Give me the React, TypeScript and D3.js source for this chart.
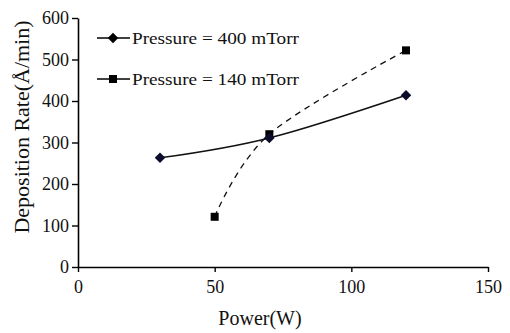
import React, { useEffect, useRef } from "react";
import * as d3 from "d3";

const power400 = [30, 70, 120];
const rate400 = [263, 311, 414];
const power140 = [50, 70, 120];
const rate140 = [121, 320, 522];
const xTicks = [0, 50, 100, 150];
const yTicks = [0, 100, 200, 300, 400, 500, 600];
const legendLabels = ["Pressure = 400 mTorr", "Pressure = 140 mTorr"];

const App = () => {
  const svgRef = useRef<SVGSVGElement>(null);
  const width = 510;
  const height = 333;

  useEffect(() => {
    const svg = d3.select(svgRef.current);
    svg.selectAll("*").remove();
    const font = '"Liberation Serif", "DejaVu Serif", serif';

    const xScale = d3.scaleLinear().domain([0, 150]).range([78, 488]);
    const yScale = d3.scaleLinear().domain([0, 600]).range([267, 18]);

    const xAxis = d3
      .axisBottom(xScale)
      .tickValues(xTicks)
      .tickSizeOuter(0)
      .tickSizeInner(5)
      .tickPadding(8);
    const yAxis = d3
      .axisLeft(yScale)
      .tickValues(yTicks)
      .tickSizeOuter(0)
      .tickSizeInner(6)
      .tickPadding(3);

    const gx = svg
      .append("g")
      .attr("transform", `translate(0, ${yScale(0)})`)
      .call(xAxis);
    gx.attr("font-family", null);
    gx.select(".domain").attr("stroke-width", 1.6);
    gx.selectAll("line").attr("stroke-width", 1.4);
    gx.selectAll("text")
      .style("font-family", font)
      .style("font-size", "18px")
      .attr("fill", "#111");

    const gy = svg
      .append("g")
      .attr("transform", `translate(${xScale(0)}, 0)`)
      .call(yAxis);
    gy.attr("font-family", null);
    gy.select(".domain").attr("stroke-width", 1.6);
    gy.selectAll("line").attr("stroke-width", 1.4);
    gy.selectAll("text")
      .style("font-family", font)
      .style("font-size", "18px")
      .attr("fill", "#111");

    const line = d3
      .line<[number, number]>()
      .x((d) => xScale(d[0]))
      .y((d) => yScale(d[1]))
      .curve(d3.curveCardinal.tension(0));

    const s400: [number, number][] = power400.map((p, i) => [p, rate400[i]]);
    const s140: [number, number][] = power140.map((p, i) => [p, rate140[i]]);

    // 140 mTorr, dashed
    svg
      .append("path")
      .attr("d", line(s140))
      .attr("fill", "none")
      .attr("stroke", "#111")
      .attr("stroke-width", 1.3)
      .attr("stroke-dasharray", "6,5");

    svg
      .selectAll(".sq")
      .data(s140)
      .join("rect")
      .attr("x", (d) => xScale(d[0]) - 4)
      .attr("y", (d) => yScale(d[1]) - 4)
      .attr("width", 8)
      .attr("height", 8)
      .attr("fill", "#000");

    // 400 mTorr, solid
    svg
      .append("path")
      .attr("d", line(s400))
      .attr("fill", "none")
      .attr("stroke", "#111")
      .attr("stroke-width", 1.5);

    const diamond = d3.symbol().type(d3.symbolDiamond2).size(70);
    svg
      .selectAll(".dm")
      .data(s400)
      .join("path")
      .attr("d", diamond)
      .attr("transform", (d) => `translate(${xScale(d[0])}, ${yScale(d[1])})`)
      .attr("fill", "#0b0b2a");

    // legend
    const legendY = [38, 79];
    legendLabels.forEach((label, i) => {
      const g = svg.append("g").attr("transform", `translate(0, ${legendY[i]})`);
      g.append("line")
        .attr("x1", 97)
        .attr("x2", 130)
        .attr("stroke", "#000")
        .attr("stroke-width", 1.5);
      if (i === 0) {
        g.append("path")
          .attr("d", diamond)
          .attr("transform", "translate(113, 0)")
          .attr("fill", "#000");
      } else {
        g.append("rect")
          .attr("x", 109)
          .attr("y", -4)
          .attr("width", 8)
          .attr("height", 8)
          .attr("fill", "#000");
      }
      g.append("text")
        .attr("x", 132)
        .attr("y", 6)
        .style("font-family", font)
        .style("font-size", "17px")
        .attr("textLength", 167)
        .attr("lengthAdjust", "spacingAndGlyphs")
        .attr("fill", "#111")
        .text(label);
    });

    // axis titles
    svg
      .append("text")
      .attr("x", 260)
      .attr("y", 325)
      .attr("text-anchor", "middle")
      .style("font-family", font)
      .style("font-size", "20px")
      .attr("fill", "#111")
      .text("Power(W)");

    svg
      .append("text")
      .attr("transform", "translate(29, 127) rotate(-90)")
      .attr("text-anchor", "middle")
      .style("font-family", font)
      .style("font-size", "20px")
      .attr("textLength", 213)
      .attr("lengthAdjust", "spacingAndGlyphs")
      .attr("fill", "#111")
      .text("Deposition Rate(Å/min)");
  }, []);

  return (
    <svg
      ref={svgRef}
      width={width}
      height={height}
      style={{ position: "absolute", left: 0, top: 0, background: "#fff" }}
    ></svg>
  );
};

export default App;
